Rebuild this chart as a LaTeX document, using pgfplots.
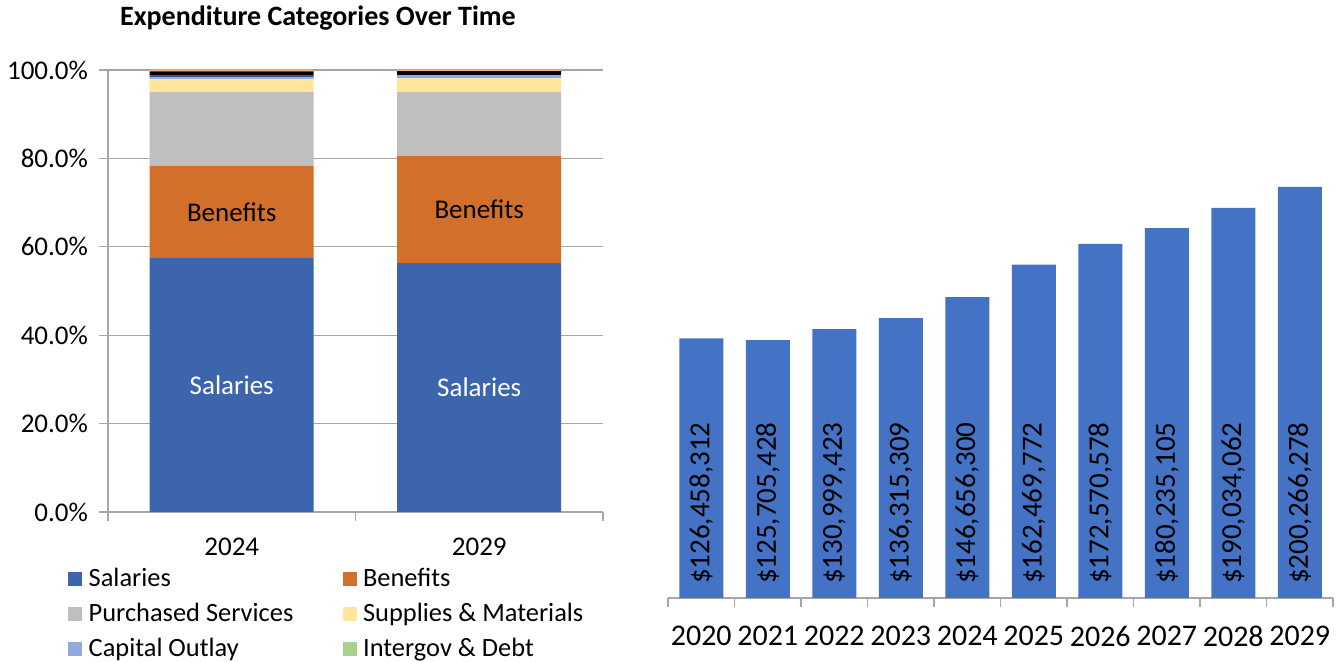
\documentclass[border=0pt]{standalone}
\usepackage{fontspec}
\setmainfont{Carlito}
\usepackage{pgfplots}
\pgfplotsset{compat=1.18}
\definecolor{sal}{HTML}{3D65AE}
\definecolor{ben}{HTML}{D2702B}
\definecolor{pur}{HTML}{BFBFBF}
\definecolor{sup}{HTML}{FFE699}
\definecolor{cap}{HTML}{8FAADC}
\definecolor{igd}{HTML}{A9D18E}
\definecolor{oth}{HTML}{2F4F8F}
\definecolor{oth2}{HTML}{000000}
\definecolor{oth3}{HTML}{F4B183}
\definecolor{barblue}{HTML}{4472C4}
\definecolor{axgray}{HTML}{A6A6A6}
\begin{document}
\begin{tikzpicture}
\useasboundingbox (0,0) rectangle (670.5pt,331pt);
\node[font=\fontsize{14}{16}\selectfont\bfseries] at (159pt,322pt) {Expenditure Categories Over Time};
% left: stacked shares
\begin{axis}[
  at={(54pt,75pt)}, anchor=south west,
  scale only axis, width=247.5pt, height=221pt,
  ybar stacked, bar width=82pt,
  xmin=-0.5, xmax=1.5, ymin=0, ymax=100,
  axis x line*=bottom, axis y line*=left,
  axis line style={axgray, line width=0.6pt},
  tick align=outside, major tick length=4.5pt,
  tick style={axgray, line width=0.6pt},
  xtick={-0.5,0.5,1.5}, xticklabels={},
  extra x ticks={0,1}, extra x tick labels={2024,2029},
  extra x tick style={major tick length=0pt, xticklabel style={yshift=-9.5pt}},
  ytick={0,20,...,100},
  ymajorgrids, grid style={axgray, line width=0.6pt},
  yticklabel={\pgfmathprintnumber[fixed,fixed zerofill,precision=1]{\tick}\%},
  yticklabel style={xshift=-2pt},
  /pgf/number format/assume math mode=true,
  ticklabel style={font=\fontsize{13.5}{16}\selectfont},
  legend columns=2,
  legend style={at={(-0.081,-0.117)}, anchor=north west, draw=none, inner sep=0pt,
    font=\fontsize{13.2}{16}\selectfont, row sep=2.8pt,
    nodes={inner xsep=3.2pt},
    /tikz/every even column/.append style={column sep=21.5pt}},
  legend cell align=left,
  legend image code/.code={\path[#1,draw=none] (0pt,-3.5pt) rectangle (7pt,3.5pt);},
]
\addplot[fill=sal, draw=none, nodes near coords={Salaries},
  every node near coord/.append style={anchor=center, white, font=\fontsize{13.5}{16}\selectfont}]
  coordinates {(0,57.5) (1,56.3)};
\addplot[fill=ben, draw=none, nodes near coords={Benefits},
  every node near coord/.append style={anchor=center, black, font=\fontsize{13.5}{16}\selectfont}]
  coordinates {(0,20.8) (1,24.2)};
\addplot[fill=pur, draw=none] coordinates {(0,16.7) (1,14.5)};
\addplot[fill=sup, draw=none] coordinates {(0,3.0) (1,3.1)};
\addplot[fill=cap, draw=none] coordinates {(0,0.35) (1,0.75)};
\addplot[fill=igd, draw=none] coordinates {(0,0) (1,0)};
\addplot[fill=oth, draw=none] coordinates {(0,0.35) (1,0.05)};
\addplot[fill=oth2, draw=none] coordinates {(0,1.0) (1,0.85)};
\addplot[fill=oth3, draw=none] coordinates {(0,0.3) (1,0.25)};
\legend{Salaries, Benefits, Purchased Services, Supplies \& Materials, Capital Outlay, Intergov \& Debt}
\end{axis}
% right: totals by year
\begin{axis}[
  at={(334pt,32pt)}, anchor=south west,
  scale only axis, width=332.5pt, height=205.5pt,
  ybar, bar width=22pt,
  xmin=-0.5, xmax=9.5, ymin=0, ymax=200266278,
  axis y line=none, axis x line*=bottom,
  axis line style={axgray, line width=0.6pt},
  tick align=outside, major tick length=4.5pt,
  tick style={axgray, line width=0.6pt},
  xtick={-0.5,0.5,...,9.5}, xticklabels={},
  extra x ticks={0,...,9},
  extra x tick labels={2020,2021,2022,2023,2024,2025,2026,2027,2028,2029},
  extra x tick style={major tick length=0pt, xticklabel style={yshift=-10.5pt}},
  ticklabel style={font=\fontsize{15}{17}\selectfont},
]
\addplot[fill=barblue, draw=none, bar shift=0pt] coordinates {
  (0,126458312) (1,125705428) (2,130999423) (3,136315309) (4,146656300)
  (5,162469772) (6,172570578) (7,180235105) (8,190034062) (9,200266278)};
\addplot[draw=none, fill=none, bar shift=0pt, point meta=explicit symbolic,
  nodes near coords,
  every node near coord/.append style={yshift=3.5pt, anchor=west, rotate=90, black, font=\fontsize{14.5}{16}\selectfont}]
  coordinates {
  (0,0) [\$126,458,312] (1,0) [\$125,705,428] (2,0) [\$130,999,423]
  (3,0) [\$136,315,309] (4,0) [\$146,656,300] (5,0) [\$162,469,772]
  (6,0) [\$172,570,578] (7,0) [\$180,235,105] (8,0) [\$190,034,062]
  (9,0) [\$200,266,278]};
\end{axis}
\end{tikzpicture}
\end{document}
